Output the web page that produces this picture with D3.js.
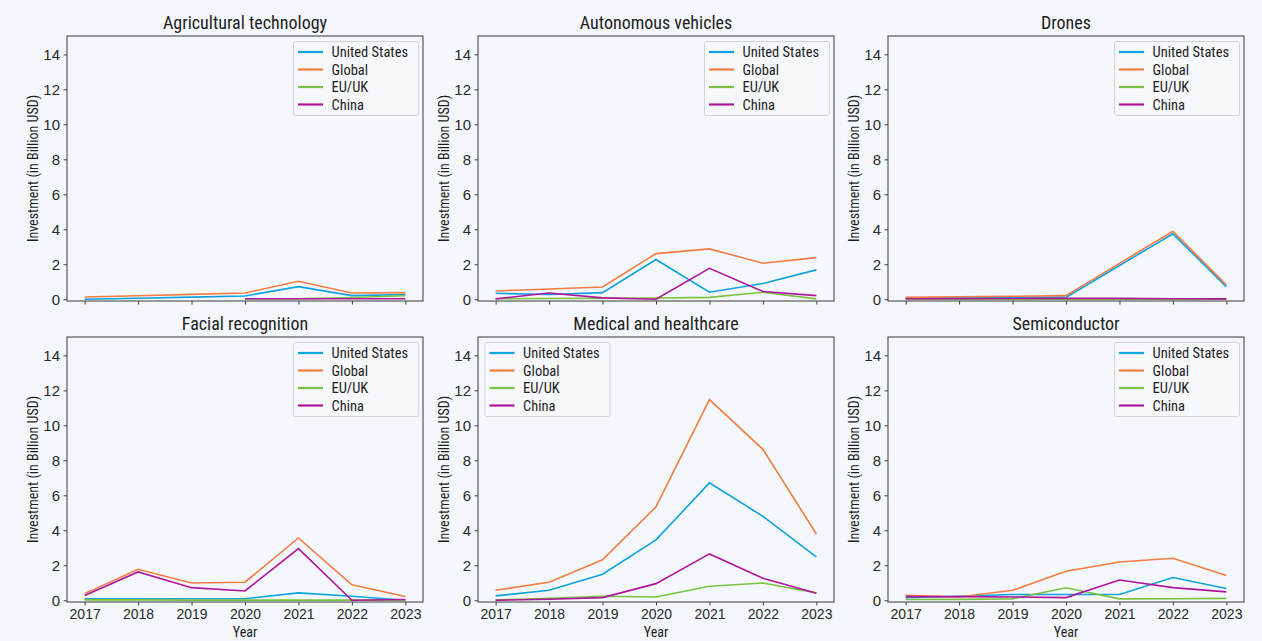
<!DOCTYPE html>
<html>
<head>
<meta charset="utf-8">
<script src="https://cdn.jsdelivr.net/npm/d3@7"></script>
<style>
  body { margin: 0; background: #f4f7fb; }
  svg { display: block; font-family: "Liberation Sans Narrow", "Roboto Condensed", "Lato", sans-serif; }
  .tick text { fill: #2a2a2a; }
  .tick line { stroke: #444; }
</style>
</head>
<body>
<svg id="chart" width="1262" height="641"></svg>
<script>
var years = [2017, 2018, 2019, 2020, 2021, 2022, 2023];
var regions = ["United States", "Global", "EU/UK", "China"];
var regionColors = ["#0ea2e0", "#f47c42", "#7cc242", "#b1159c"];
var yTicks = [0, 2, 4, 6, 8, 10, 12, 14];

var titles = ["Agricultural technology", "Autonomous vehicles", "Drones",
              "Facial recognition", "Medical and healthcare", "Semiconductor"];

// each panel: rows in the order of `regions`, null = no data that year
var agriculturalTech = [
  [0.00, 0.06, 0.12, 0.19, 0.72, 0.21, 0.27],
  [0.13, 0.20, 0.28, 0.36, 1.03, 0.36, 0.38],
  [null, null, null, 0.02, 0.02, 0.10, 0.20],
  [null, null, null, 0.03, 0.03, 0.03, 0.03]
];
var autonomousVehicles = [
  [0.34, 0.27, 0.38, 2.27, 0.40, 0.90, 1.68],
  [0.47, 0.59, 0.70, 2.61, 2.88, 2.06, 2.38],
  [0.03, 0.04, 0.06, 0.07, 0.11, 0.40, 0.02],
  [0.02, 0.36, 0.08, 0.00, 1.77, 0.44, 0.21]
];
var drones = [
  [0.08, 0.09, 0.10, 0.11, 1.93, 3.74, 0.71],
  [0.11, 0.14, 0.17, 0.21, 2.05, 3.89, 0.82],
  [0.01, 0.01, 0.01, 0.01, 0.01, 0.01, 0.01],
  [0.03, 0.03, 0.04, 0.05, 0.05, 0.03, 0.02]
];
var facialRecognition = [
  [0.08, 0.08, 0.09, 0.09, 0.42, 0.23, 0.00],
  [0.38, 1.77, 0.99, 1.03, 3.56, 0.88, 0.21],
  [0.02, 0.02, 0.01, 0.01, 0.01, 0.01, 0.01],
  [0.27, 1.62, 0.72, 0.53, 2.95, 0.00, 0.04]
];
var medicalHealthcare = [
  [0.25, 0.57, 1.49, 3.45, 6.71, 4.80, 2.48],
  [0.57, 1.03, 2.31, 5.34, 11.47, 8.63, 3.79],
  [0.02, 0.11, 0.23, 0.19, 0.80, 0.99, 0.42],
  [0.00, 0.06, 0.15, 0.95, 2.65, 1.26, 0.40]
];
var semiconductor = [
  [0.14, 0.23, 0.33, 0.33, 0.33, 1.30, 0.67],
  [0.29, 0.19, 0.57, 1.66, 2.19, 2.40, 1.41],
  [0.04, 0.05, 0.08, 0.71, 0.08, 0.09, 0.11],
  [0.21, 0.21, 0.19, 0.15, 1.16, 0.72, 0.48]
];

var panels = [agriculturalTech, autonomousVehicles, drones,
              facialRecognition, medicalHealthcare, semiconductor];
var legendSide = ["right", "right", "right", "right", "left", "right"];

// layout of the 2 x 3 grid
var colLeft = [67, 478, 888];
var rowTop = [36, 337];
var plotW = 356, plotH = 265;

var svg = d3.select("#chart");

var x = d3.scaleLinear().domain([2016.67, 2023.33]).range([0, plotW]);
var y = d3.scaleLinear().domain([-0.1, 15.05]).range([plotH, 0]);

var line = d3.line()
  .defined(d => d != null)
  .x((d, i) => x(years[i]))
  .y(d => y(d));

panels.forEach(function(series, p) {
  var row = Math.floor(p / 3), col = p % 3;
  var g = svg.append("g")
    .attr("transform", "translate(" + colLeft[col] + "," + rowTop[row] + ")");

  // title
  g.append("text")
    .attr("x", plotW / 2)
    .attr("y", -7)
    .attr("text-anchor", "middle")
    .attr("font-size", 18)
    .attr("fill", "#1e1e1e")
    .text(titles[p]);

  // axes
  var yAxis = d3.axisLeft(y).tickValues(yTicks).tickSize(3.5).tickPadding(3.5).tickSizeOuter(0);
  var gy = g.append("g").call(yAxis);
  gy.select(".domain").remove();
  gy.selectAll("text").attr("font-size", 15);

  var xAxis = d3.axisBottom(x).tickValues(years).tickSize(3.5).tickPadding(3.5).tickSizeOuter(0)
    .tickFormat(row === 1 ? d3.format("d") : "");
  var gx = g.append("g").attr("transform", "translate(0," + plotH + ")").call(xAxis);
  gx.select(".domain").remove();
  gx.selectAll("text").attr("font-size", 14);

  g.append("text")
    .attr("transform", "translate(-34," + (plotH / 2) + ") rotate(-90)")
    .attr("text-anchor", "middle")
    .attr("dy", "0.35em")
    .attr("font-size", 14)
    .attr("fill", "#1e1e1e")
    .text("Investment (in Billion USD)");

  if (row === 1) {
    g.append("text")
      .attr("x", plotW / 2)
      .attr("y", plotH + 35)
      .attr("text-anchor", "middle")
      .attr("font-size", 14)
      .attr("fill", "#1e1e1e")
      .text("Year");
  }

  // lines
  g.selectAll("path.series")
    .data(series)
    .join("path")
    .attr("class", "series")
    .attr("fill", "none")
    .attr("stroke", (d, i) => regionColors[i])
    .attr("stroke-width", 1.6)
    .attr("d", line);

  // frame
  g.append("rect")
    .attr("width", plotW)
    .attr("height", plotH)
    .attr("fill", "none")
    .attr("stroke", "#3a3a3a")
    .attr("stroke-width", 1);

  // legend
  var lgW = 125, lgH = 74;
  var lgX = legendSide[p] === "right" ? plotW - 4.5 - lgW : 7;
  var lg = g.append("g").attr("transform", "translate(" + lgX + ",5.5)");
  lg.append("rect")
    .attr("width", lgW)
    .attr("height", lgH)
    .attr("rx", 2)
    .attr("fill", "#f6f8fb")
    .attr("stroke", "#d2d4d8");
  var items = lg.selectAll("g.item")
    .data(regions)
    .join("g")
    .attr("class", "item")
    .attr("transform", (d, i) => "translate(0," + (10.5 + i * 17.5) + ")");
  items.append("line")
    .attr("x1", 4.5).attr("x2", 29.5)
    .attr("stroke", (d, i) => regionColors[i])
    .attr("stroke-width", 2.2);
  items.append("text")
    .attr("x", 38)
    .attr("dy", "0.35em")
    .attr("font-size", 14.5)
    .attr("fill", "#1e1e1e")
    .text(d => d);
});
</script>
</body>
</html>
